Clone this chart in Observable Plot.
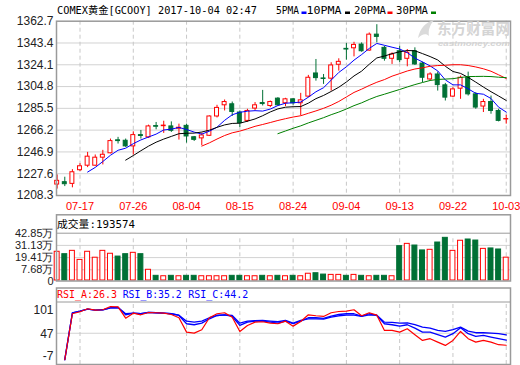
<!DOCTYPE html>
<html><head><meta charset="utf-8">
<script src="https://cdn.jsdelivr.net/npm/d3@7"></script>
<script src="https://cdn.jsdelivr.net/npm/@observablehq/plot@0.6"></script>
<style>
body{margin:0;background:#fff;}
#c{position:relative;width:520px;height:365px;overflow:hidden;background:#fff;}
#c svg{position:absolute;left:0;top:0;}
</style></head><body><div id="c"></div>
<script>
const dates = ["07-12","07-13","07-14","07-17","07-18","07-19","07-20","07-21","07-24","07-25","07-26","07-27","07-28","07-31","08-01","08-02","08-03","08-04","08-07","08-08","08-09","08-10","08-11","08-14","08-15","08-16","08-17","08-18","08-21","08-22","08-23","08-24","08-25","08-28","08-29","08-30","08-31","09-01","09-04","09-05","09-06","09-07","09-08","09-11","09-12","09-13","09-14","09-15","09-18","09-19","09-20","09-21","09-22","09-25","09-26","09-27","09-28","09-29","10-02","10-03"];
const open  = [1218.0,1220.1,1218.6,1230.7,1234.7,1234.7,1241.8,1245.7,1257.2,1256.8,1251.8,1261.8,1259.8,1269.8,1269.7,1269.5,1267.5,1270.0,1259.9,1258.9,1261.2,1278.3,1288.2,1289.1,1281.8,1274.4,1285.3,1290.2,1287.6,1294.1,1290.0,1293.5,1290.0,1295.9,1316.4,1312.0,1311.8,1324.1,1338.2,1338.7,1342.0,1336.7,1350.8,1339.1,1329.4,1336.1,1329.4,1336.1,1325.2,1311.1,1315.5,1305.9,1295.9,1302.9,1312.6,1297.9,1287.1,1291.1,1283.2,1275.7];
const high  = [1226.5,1224.5,1231.2,1236.5,1246.5,1244.2,1248.3,1258.3,1259.8,1258.3,1264.7,1265.9,1270.6,1273.0,1274.1,1273.5,1271.5,1271.5,1260.6,1263.5,1278.8,1288.2,1292.9,1291.1,1283.2,1284.7,1290.6,1301.4,1292.0,1295.0,1294.4,1294.1,1298.8,1314.7,1328.8,1315.5,1325.9,1329.4,1342.9,1344.0,1343.5,1352.3,1359.6,1340.5,1334.7,1340.5,1337.6,1339.1,1326.4,1317.0,1317.6,1307.6,1303.8,1314.1,1317.6,1299.4,1293.5,1296.4,1284.7,1279.4];
const low   = [1214.0,1216.2,1215.1,1229.5,1233.0,1234.2,1235.4,1245.2,1253.9,1250.9,1244.2,1258.3,1258.9,1266.5,1263.3,1264.2,1257.4,1254.7,1256.2,1252.4,1260.6,1277.0,1283.2,1278.3,1268.6,1273.0,1283.2,1287.6,1286.2,1287.6,1287.1,1288.2,1278.8,1295.0,1309.6,1306.7,1300.8,1318.5,1328.2,1331.1,1335.2,1336.1,1343.5,1327.3,1324.4,1325.9,1322.3,1323.5,1308.2,1309.6,1300.8,1292.0,1295.0,1293.5,1296.4,1284.7,1281.8,1280.3,1273.5,1271.5];
const close = [1221.3,1218.3,1228.9,1234.2,1242.7,1241.8,1244.4,1256.5,1256.5,1251.8,1261.8,1261.0,1269.5,1269.2,1270.2,1265.6,1268.3,1260.6,1257.6,1261.5,1278.3,1285.9,1291.1,1282.3,1272.4,1283.2,1288.2,1289.3,1291.1,1288.2,1293.5,1290.0,1292.6,1312.6,1312.3,1311.5,1323.5,1326.7,1337.6,1341.7,1336.1,1350.8,1348.8,1329.4,1333.2,1328.2,1334.7,1324.4,1312.6,1315.5,1306.1,1295.0,1302.3,1312.6,1297.9,1286.2,1291.1,1283.2,1274.4,1276.0];
// volume in 万 (10k contracts)
const volume = [25.0,22.7,25.9,17.2,25.0,19.3,25.9,23.1,20.4,22.7,24.0,22.7,7.7,1.9,1.5,1.9,1.5,1.9,1.9,1.5,1.5,1.5,1.5,1.9,1.9,1.5,1.5,1.9,1.5,1.9,1.5,1.9,1.5,3.9,4.4,3.1,2.8,2.8,1.9,2.8,1.9,1.5,1.9,1.9,1.5,30.4,32.6,31.0,26.3,26.9,33.9,38.4,25.9,35.6,36.8,35.8,27.8,28.2,27.2,19.36];
const rsiA = [null,1.3,80.7,84.1,89.3,86.9,87.6,93.2,92.7,73.1,81.7,78.9,82.9,82.4,81.7,79.4,73.8,48.9,47.2,53.1,73.8,80.7,82.4,74.8,50.1,60.5,66.2,66.9,64.4,63.4,67.9,59.3,67.4,78.9,77.2,76.0,82.4,84.6,85.1,87.6,77.2,82.4,78.2,51.9,51.9,48.9,54.8,44.5,34.6,37.6,31.7,26.0,34.6,50.1,37.6,31.7,34.6,31.7,27.2,26.3];
const rsiB = [null,1.3,82.4,85.1,88.6,86.9,87.6,91.0,91.5,78.9,81.7,80.7,82.9,82.4,81.7,80.7,77.7,63.4,61.7,64.5,72.0,77.7,78.9,76.0,60.5,66.2,67.9,67.9,66.2,64.4,67.9,63.4,67.9,73.8,73.8,72.6,76.5,79.4,80.7,80.7,76.5,80.7,77.7,63.4,61.7,59.3,61.7,55.8,48.9,48.9,44.5,40.3,46.2,56.5,46.2,41.5,43.2,40.3,37.6,35.2];
const rsiC = [null,1.3,82.4,85.1,88.6,86.9,87.6,91.0,91.5,80.7,81.7,80.7,82.9,82.4,81.7,80.7,78.2,67.9,66.2,67.9,73.8,77.7,78.9,77.7,64.4,67.9,68.6,69.1,67.9,66.9,69.1,64.4,69.1,72.0,72.0,71.3,74.8,77.2,78.2,78.2,76.0,78.9,78.2,66.2,65.7,64.4,65.1,61.7,57.6,55.8,51.9,50.1,53.1,57.6,50.7,47.9,47.9,47.2,46.2,44.2];
const priceTicks = [1362.7,1343.4,1324.1,1304.8,1285.5,1266.2,1246.9,1227.6,1208.3];
const volTicks = [42.85,31.13,19.41,7.68,0];
const volTickLabels = ["42.85万","31.13万","19.41万","7.68万","0"];
const rsiTicks = [101,47,-7];
const tickDates = ["07-17","07-26","08-04","08-15","08-24","09-04","09-13","09-22","10-03"];
const maPeriods = [5,10,20,30];
const maColors = ["#0000ff","#000000","#ff0000","#008000"];

const RED = "#ff0000", GREEN = "#007035";
const data = dates.map((d,i)=>({date:d, open:open[i], high:high[i], low:low[i], close:close[i], vol:volume[i], a:rsiA[i], b:rsiB[i], c:rsiC[i], up: close[i] >= open[i]}));

const xScale = {type:"band", domain:dates, range:[54.2,508.2], paddingInner:0.35, paddingOuter:0, align:0.5, round:false, axis:null};
const base = {width:520, height:365, marginLeft:56, marginRight:10, color:{type:"identity"},
  style:{background:"transparent", fontFamily:"'Liberation Sans', Arial, sans-serif", fontSize:"12px", overflow:"visible", color:"#000"}};
const GRID = "#d2d2d2", FRAME = "#9a9a9a";
const c = document.getElementById("c");

// Main price panel
const main = Plot.plot({...base, marginTop:20.7, marginBottom:170,
  x: xScale, y:{domain:[1208.3,1362.7], range:[195,20.7], axis:null},
  marks:[
    Plot.ruleY(priceTicks.slice(1,-1), {stroke:GRID}),
    Plot.ruleX(tickDates, {x:d=>d, stroke:"#c8c8c8", strokeDasharray:"4,3"}),
    Plot.ruleX(data, {x:"date", y1:"low", y2:"high", stroke:d=>d.up?RED:GREEN}),
    Plot.barY(data, {x:"date", y1:"open", y2:"close", insetLeft:0.5, insetRight:0.5, fill:d=>d.up?"#ffffff":GREEN, stroke:d=>d.up?RED:GREEN}),
    ...maPeriods.map((k,j)=>Plot.line(data, Plot.windowY({k, anchor:"end", strict:true}, {x:"date", y:"close", stroke:maColors[j], strokeWidth:1}))),
    Plot.text(priceTicks, {y:d=>d, text:d=>d.toFixed(1), frameAnchor:"left", textAnchor:"end", dx:-3, fill:"#222"}),
    Plot.text(tickDates, {x:d=>d, frameAnchor:"bottom", lineAnchor:"middle", dy:11, fill:RED, fontSize:11}),
    Plot.frame({stroke:FRAME, strokeWidth:1.5})
  ]});
c.appendChild(main);

// Volume panel (bars reach down to the panel floor)
const vol = Plot.plot({...base, marginTop:214.3, marginBottom:84.5,
  x: xScale, y:{domain:[0,42.85], range:[277.3,232.7], axis:null},
  marks:[
    Plot.ruleY(volTicks.slice(0,-1), {stroke:(d,i)=>i===0?FRAME:GRID}),
    Plot.ruleX(tickDates, {x:d=>d, y1:0, y2:42.85, insetBottom:-2.7, stroke:"#c8c8c8", strokeDasharray:"4,3"}),
    Plot.barY(data, {x:"date", y:"vol", insetBottom:-2.7, fill:d=>d.up?"#ffffff":GREEN, stroke:d=>d.up?RED:GREEN}),
    Plot.text(volTicks.slice(0,-1), {y:d=>d, text:(d,i)=>volTickLabels[i], frameAnchor:"left", textAnchor:"end", dx:-3, fill:"#222", fontSize:11}),
    Plot.text(volTicks.slice(-1), {y:d=>d, text:d=>volTickLabels[volTickLabels.length-1], frameAnchor:"left", textAnchor:"end", dx:-3, dy:3.5, fill:"#222", fontSize:11}),
    Plot.frame({stroke:FRAME, strokeWidth:1.5})
  ]});
c.appendChild(vol);

// RSI panel
const rsi = Plot.plot({...base, marginTop:287.5, marginBottom:1,
  x: xScale, y:{domain:[-7,101], range:[364,301.5], axis:null},
  marks:[
    Plot.ruleY([101], {stroke:FRAME}),
    Plot.ruleY([47], {stroke:GRID}),
    Plot.ruleX(tickDates, {x:d=>d, y1:-7, y2:101, stroke:"#c8c8c8", strokeDasharray:"4,3"}),
    Plot.line(data, {x:"date", y:"c", stroke:"#0000ff", strokeWidth:1.3}),
    Plot.line(data, {x:"date", y:"b", stroke:"#0000ff", strokeWidth:1.3}),
    Plot.line(data, {x:"date", y:"a", stroke:RED, strokeWidth:1.2}),
    Plot.text([rsiTicks[0]], {y:d=>d, frameAnchor:"left", textAnchor:"end", dx:-3, dy:8.5, fill:"#222"}),
    Plot.text([rsiTicks[1]], {y:d=>d, frameAnchor:"left", textAnchor:"end", dx:-3, dy:0.5, fill:"#222"}),
    Plot.text([rsiTicks[2]], {y:d=>d, frameAnchor:"left", textAnchor:"end", dx:-3, dy:-8, fill:"#222"}),
    Plot.frame({stroke:FRAME, strokeWidth:1.5})
  ]});
c.appendChild(rsi);

// Overlay: titles, legend, watermark
const ov = d3.create("svg").attr("width",520).attr("height",365)
  .style("font-family","'DejaVu Sans Mono','Noto Sans CJK SC',monospace").style("font-size","10.5px");
function t(str, x, y, len, fill, extra){
  const e = ov.append("text").attr("x",x).attr("y",y).attr("fill",fill||"#000").text(str);
  if(len){e.attr("textLength",len).attr("lengthAdjust","spacingAndGlyphs");}
  if(extra) extra(e);
  return e;
}
// watermark
t("东方财富网", 437, 34, 73, "#d4d4d4", e=>e.style("font-family","'Noto Sans CJK SC'").style("font-weight","bold").style("font-size","15px"));
t("eastmoney.com", 438, 45.5, 72, "#d4d4d4", e=>e.style("font-family","'Liberation Sans'").style("font-weight","bold").style("font-style","italic").style("font-size","8px"));
ov.append("path").attr("d","M418,38 C420,28 426,22 434,20 C430,25 428,30 429,36 C426,33 422,34 418,38 Z").attr("fill","#dadada");

t("COMEX黄金[GCOOY] 2017-10-04 02:47", 57, 14, 200);
const legend = [["5PMA",276,23,"#0000ff",301.5],["10PMA",306.5,35,"#000000",345],["20PMA",354,32,"#ff0000",387.5],["30PMA",396,32,"#008000",431]];
legend.forEach(([s,x,w,col,mx])=>{ t(s,x,14,w); ov.append("rect").attr("x",mx).attr("y",11.5).attr("width",5).attr("height",2.5).attr("fill",col); });
t("成交量:193574", 57, 227.5, 78);
t("RSI_A:26.3", 57, 298, 60, RED);
t("RSI_B:35.2", 122.7, 298, 59, "#0000ff");
t("RSI_C:44.2", 188.3, 298, 60, "#0000ff");
c.appendChild(ov.node());
</script></body></html>
